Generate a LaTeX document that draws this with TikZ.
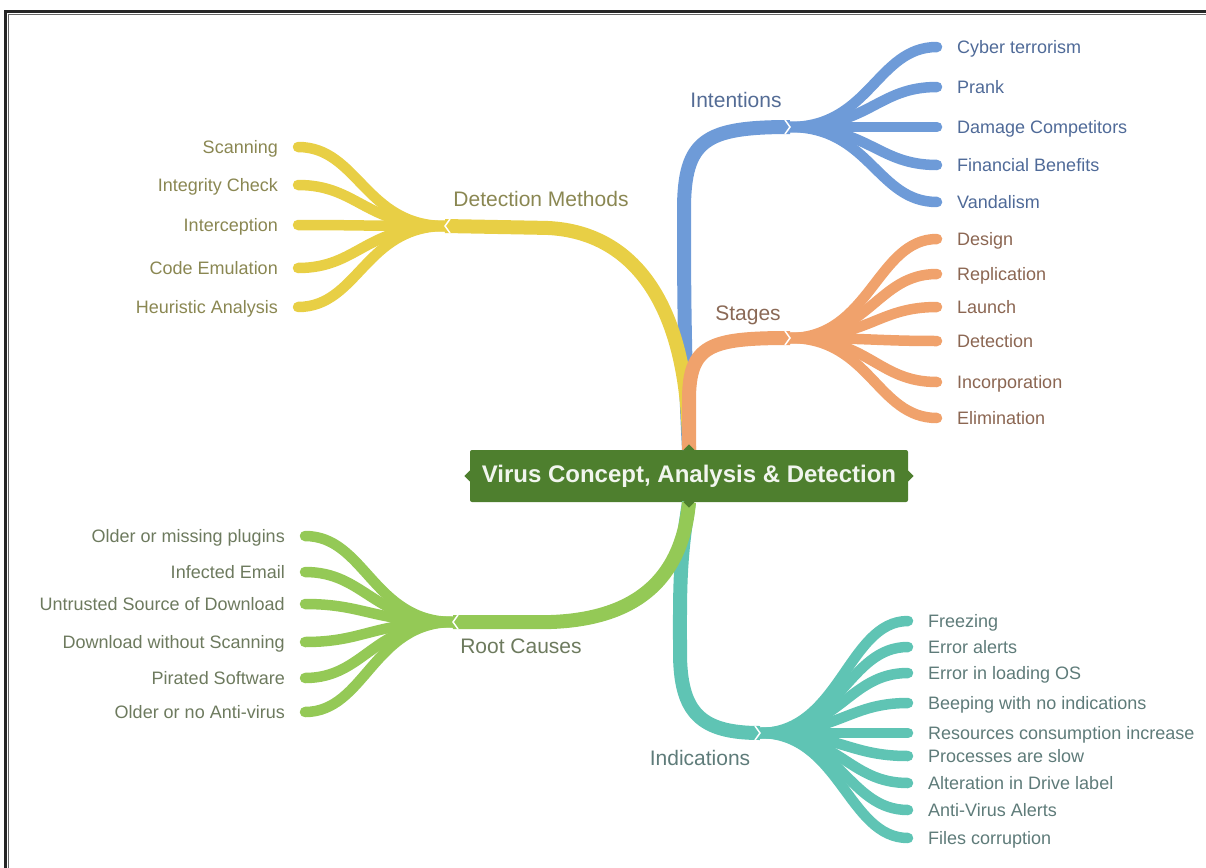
\documentclass[tikz,border=0pt]{standalone}
\usepackage{fontspec}
\setmainfont{Liberation Sans}
\usetikzlibrary{shapes}

\definecolor{cblue}{HTML}{6E9BD8}
\definecolor{corange}{HTML}{F0A26C}
\definecolor{cyellow}{HTML}{E8CF45}
\definecolor{clime}{HTML}{94C956}
\definecolor{cteal}{HTML}{5FC4B4}
\definecolor{cgreen}{HTML}{4E7F2E}
\definecolor{tblue}{HTML}{4F6A98}
\definecolor{torange}{HTML}{8B6652}
\definecolor{tyellow}{HTML}{8A8752}
\definecolor{tlime}{HTML}{6D7A5E}
\definecolor{tteal}{HTML}{5E7B79}

\begin{document}
\begin{tikzpicture}[x=1pt,y=-1pt]
\tikzstyle{branch}=[line width=14pt]
\tikzstyle{leaf}=[line width=10.5pt,line cap=round]
\tikzstyle{chev}=[white,line width=1.5pt]
\tikzstyle{txt}=[inner ysep=0pt,inner xsep=20pt,text height=16pt,text depth=3.5pt,font=\fontsize{18}{20}\selectfont]
\tikzstyle{rt}=[txt,anchor=west]
\tikzstyle{lt}=[txt,anchor=east]
\tikzstyle{topic}=[inner sep=0pt,text height=17pt,text depth=4pt,font=\fontsize{21}{24}\selectfont]
\tikzstyle{virus}=[fill=cgreen,text=white!92!cgreen,rounded corners=2pt,minimum width=438pt,minimum height=52pt,font=\bfseries\fontsize{24}{26}\selectfont]
\tikzstyle{notch}=[diamond,fill=cgreen,inner sep=0pt,minimum size=11pt]
\useasboundingbox (0,0) rectangle (1206,867);
\clip (0,0) rectangle (1206,867);
% frame
\draw[line width=2.8pt,black!85] (5.5,900) -- (5.5,11.3) -- (1250,11.3);
\draw[line width=1.4pt,black!60] (8.7,900) -- (8.7,14.6) -- (1250,14.6);

\node[virus] (virus) at (689,476) {Virus Concept, Analysis \& Detection};
\coordinate (fi) at (790,127);
\coordinate (fs) at (790,338);
\coordinate (fd) at (445,226);
\coordinate (fr) at (453,622);
\coordinate (ft) at (760,733);

% main branches
\draw[branch,cblue] (virus.north) .. controls +(-5,-90) and +(0,60) .. ++(-5,-240) .. controls +(0,-70) and +(-85,0) .. (fi);
\draw[branch,cyellow] (virus.north) .. controls +(0,-150) and +(90,0) .. ++(-149,-222) -- (fd);
\draw[branch,corange] (virus.north) -- ++(0,-50) .. controls +(0,-55) and +(-80,0) .. (fs);
\draw[branch,cteal] (virus.south) .. controls +(-10,60) and +(0,-60) .. ++(-9,150) .. controls +(0,60) and +(-60,0) .. (ft);
\draw[branch,clime] (virus.south) .. controls +(-8,90) and +(80,0) .. ++(-149,120) -- (fr);
\foreach \a in {north,south,east,west} \node[notch] at (virus.\a) {};

\node[topic,text=tblue!90!gray] at (736,101) {Intentions};
\node[topic,text=torange!90!gray] at (748,314) {Stages};
\node[topic,text=tyellow] at (541,200) {Detection Methods};
\node[topic,text=tlime] at (521,647) {Root Causes};
\node[topic,text=tteal] at (700,759) {Indications};

% leaves
\foreach \n/\y/\w in {1/47/Cyber terrorism,2/87/Prank,3/127/Damage Competitors,4/165/Financial Benefits,5/202/Vandalism} {
  \node[rt,text=tblue] (i\n) at (937,\y) {\w};
  \draw[leaf,cblue] (fi) .. controls +(80,0) and +(-60,0) .. (i\n.west);
}
\foreach \n/\y/\w in {1/239/Design,2/274/Replication,3/307/Launch,4/341/Detection,5/382/Incorporation,6/418/Elimination} {
  \node[rt,text=torange] (s\n) at (937,\y) {\w};
  \draw[leaf,corange] (fs) .. controls +(80,0) and +(-60,0) .. (s\n.west);
}
\foreach \n/\y/\w in {1/147/Scanning,2/185/Integrity Check,3/225/Interception,4/268/Code Emulation,5/307/Heuristic Analysis} {
  \node[lt,text=tyellow] (d\n) at (298,\y) {\w};
  \draw[leaf,cyellow] (fd) .. controls +(-80,0) and +(60,0) .. (d\n.east);
}
\foreach \n/\y/\w in {1/536/Older or missing plugins,2/572/Infected Email,3/604/Untrusted Source of Download,4/642/Download without Scanning,5/678/Pirated Software,6/712/Older or no Anti-virus} {
  \node[lt,text=tlime] (r\n) at (305,\y) {\w};
  \draw[leaf,clime] (fr) .. controls +(-80,0) and +(60,0) .. (r\n.east);
}
\foreach \n/\y/\w in {1/621/Freezing,2/647/Error alerts,3/673/Error in loading OS,4/703/Beeping with no indications,5/733/Resources consumption increase,6/756/Processes are slow,7/783/Alteration in Drive label,8/810/Anti-Virus Alerts,9/838/Files corruption} {
  \node[rt,text=tteal] (n\n) at (908,\y) {\w};
  \draw[leaf,cteal] (ft) .. controls +(80,0) and +(-60,0) .. (n\n.west);
}

% joints
\draw[chev] (fi) ++(-5,-7) -- ++(5,7) -- ++(-5,7);
\draw[chev] (fs) ++(-5,-7) -- ++(5,7) -- ++(-5,7);
\draw[chev] (ft) ++(-5,-7) -- ++(5,7) -- ++(-5,7);
\draw[chev] (fd) ++(5,-7) -- ++(-5,7) -- ++(5,7);
\draw[chev] (fr) ++(5,-7) -- ++(-5,7) -- ++(5,7);
\end{tikzpicture}
\end{document}
